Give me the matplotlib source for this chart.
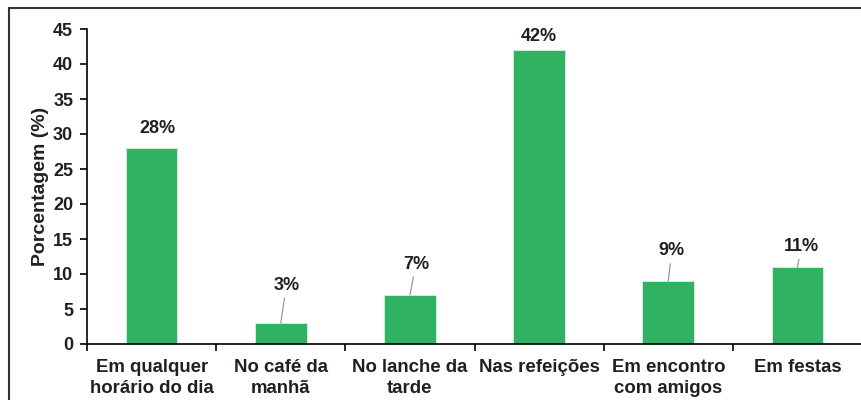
import matplotlib.pyplot as plt
from matplotlib.patches import Rectangle

# Momentos de consumo
categories = [
    "Em qualquer\nhorário do dia",
    "No café da\nmanhã",
    "No lanche da\ntarde",
    "Nas refeições",
    "Em encontro\ncom amigos",
    "Em festas",
]
values = [28, 3, 7, 42, 9, 11]
value_labels = ["28%", "3%", "7%", "42%", "9%", "11%"]

# label offsets (points) and whether a leader line is drawn
label_offsets = [(4.3, 8), (4, 21), (4.3, 16), (0, 3.5), (2.5, 15.5), (3, 8.5)]
leader = [False, True, True, False, True, True]

BAR_COLOR = "#30b263"
TEXT_COLOR = "#231f20"

plt.rcParams["font.family"] = ["Liberation Sans", "DejaVu Sans"]
plt.rcParams["font.weight"] = "bold"

fig = plt.figure(figsize=(8.62, 4.0), dpi=100)
ax = fig.add_axes([0.101, 0.14, 0.899, 0.7875])

x = list(range(len(categories)))
ax.bar(x, values, width=0.4, color=BAR_COLOR, edgecolor="#d8f0df", linewidth=0.6, zorder=2)

for xi, v, lab, off, ld in zip(x, values, value_labels, label_offsets, leader):
    props = dict(arrowstyle="-", color="#9a9a9a", lw=0.9, shrinkA=1, shrinkB=0) if ld else None
    ax.annotate(lab, xy=(xi, v), xytext=off, textcoords="offset points",
                ha="center", va="bottom", fontsize=13, fontweight="bold",
                color=TEXT_COLOR, arrowprops=props)

ax.set_xlim(-0.5, len(categories) - 0.5)
ax.set_ylim(0, 45)
ax.set_yticks(range(0, 46, 5))
ax.set_xticks([i + 0.5 for i in range(-1, len(categories))])
ax.set_xticklabels([])
ax.set_xticks(x, minor=True)
ax.set_xticklabels(categories, minor=True, fontsize=13.4, fontweight="bold",
                   color=TEXT_COLOR, linespacing=1.28)
ax.tick_params(axis="x", which="minor", length=0, pad=11)
ax.tick_params(axis="x", which="major", length=5, width=1.2, color="black")
ax.tick_params(axis="y", length=5, width=1.2, pad=5, labelsize=13, labelcolor=TEXT_COLOR)

for side in ["top", "right"]:
    ax.spines[side].set_visible(False)
for side in ["left", "bottom"]:
    ax.spines[side].set_linewidth(1.2)

ax.set_ylabel("Porcentagem (%)", fontsize=14, fontweight="bold", color=TEXT_COLOR, labelpad=3)

# outer frame
fig.patches.append(Rectangle((9 / 862, -0.1), 1.2, 0.1 + 392 / 400, transform=fig.transFigure,
                             fill=False, edgecolor="#333333", linewidth=1.5))

fig.savefig("out.png", dpi=100)
